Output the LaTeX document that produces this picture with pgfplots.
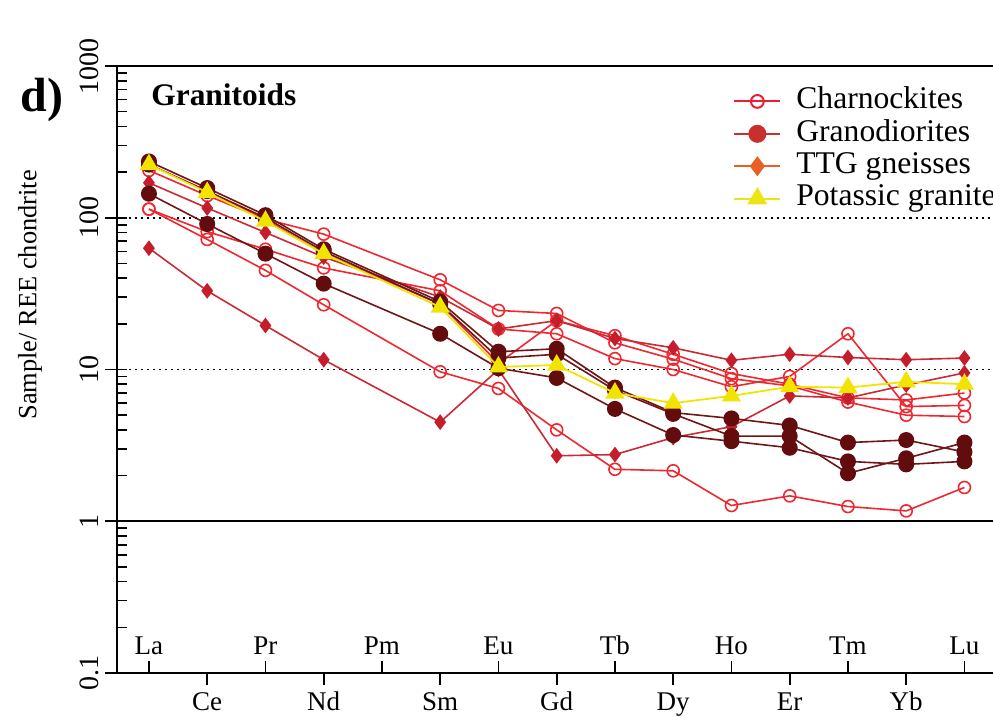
\documentclass[border=0pt]{standalone}
\usepackage{pgfplots}
\pgfplotsset{compat=1.18}
\usepackage{fontspec}
\setmainfont{Liberation Serif}
\definecolor{charn}{RGB}{238,40,48}
\definecolor{maroonM}{RGB}{98,12,14}
\definecolor{maroonL}{RGB}{112,22,24}
\definecolor{ttgM}{RGB}{196,30,45}
\definecolor{ttgL}{RGB}{202,42,52}
\definecolor{kgr}{RGB}{240,228,0}
\definecolor{legCharn}{RGB}{236,30,50}
\definecolor{legGrano}{RGB}{200,48,45}
\definecolor{legTTG}{RGB}{232,96,40}
\definecolor{legK}{RGB}{236,228,20}
\begin{document}
\begin{tikzpicture}
\useasboundingbox (-58.75pt,-22pt) rectangle (437.75pt,336.5pt);
\begin{axis}[
  at={(0,0)}, anchor=south west,
  scale only axis, width=437.75pt, height=303.5pt,
  clip mode=individual,
  xmin=-0.54, xmax=14.49,
  ymode=log, ymin=0.1, ymax=1000,
  axis x line*=bottom, axis y line*=left,
  axis line style={line width=1pt, -},
  tick align=outside,
  major tick length=6pt, minor tick length=5pt,
  tick style={black, line width=0.8pt},
  every minor y tick/.append style={xshift=5pt},
  xtick={1,3,5,7,9,11,13},
  xticklabels={Ce,Nd,Sm,Gd,Dy,Er,Yb},
  xticklabel style={font=\fontsize{13.5}{13.5}\selectfont, anchor=base, yshift=-13pt},
  extra x ticks={0,2,4,6,8,10,12,14},
  extra x tick labels={La,Pr,Pm,Eu,Tb,Ho,Tm,Lu},
  extra x tick style={tick align=inside, xticklabel style={yshift=22pt}},
  ytick={0.1,1,10,100,1000},
  yticklabels={0.1,1,10,100,1000},
  yticklabel style={font=\fontsize{14}{14}\selectfont, rotate=90, anchor=south},
  legend style={at={(0.703,0.969)}, anchor=north west, draw=none, fill=none,
    font=\fontsize{15.8}{17}\selectfont, inner sep=0pt, row sep=0pt,
    nodes={inner sep=0pt, text height=11.7pt, text depth=4.5pt},
    /tikz/every odd column/.append style={column sep=7.5pt}},
  legend cell align=left,
  legend image code/.code={\draw[mark repeat=2,mark phase=2,#1] plot coordinates {(0pt,0pt) (11.5pt,0pt) (23pt,0pt)};},
  charnS/.style={charn, line width=0.8pt, mark=o, mark size=3pt, mark options={line width=0.8pt}},
  granoS/.style={maroonL, line width=0.8pt, mark=*, mark size=3.6pt, mark options={maroonM, fill=maroonM}},
  ttgS/.style={ttgL, line width=0.8pt, mark=diamond*, mark size=3.3pt, mark options={ttgM, fill=ttgM}},
  kS/.style={kgr, line width=0.9pt, mark=triangle*, mark size=4.6pt, mark options={kgr, fill=kgr}},
]
% reference lines
\draw[line width=1pt] (axis cs:-0.54,1000) -- (axis cs:14.49,1000);
\draw[line width=0.8pt] (axis cs:-0.54,1) -- (axis cs:14.49,1);
\draw[line width=0.9pt, dash pattern=on 1pt off 2pt] (axis cs:-0.54,100) -- (axis cs:14.49,100);
\draw[line width=0.9pt, dash pattern=on 1pt off 2pt] (axis cs:-0.54,10) -- (axis cs:14.49,10);

% Charnockites
\addplot[charnS, forget plot] coordinates {(0,205)(1,140)(2,98)(3,78)(5,39)(6,24.5)(7,23.4)(8,15.0)(9,11.7)(10,8.7)(11,7.8)(12,6.1)(13,5.0)(14,4.9)};
\addplot[charnS, forget plot] coordinates {(0,114)(1,81)(2,62)(3,46.7)(5,33)(6,18.5)(7,17.2)(8,11.8)(9,10.0)(10,7.7)(11,9.0)(12,17.2)(13,5.7)(14,5.8)};
\addplot[charnS, forget plot] coordinates {(0,114)(1,72)(2,45)(3,26.7)(5,9.66)(6,7.5)(7,4.0)(8,2.2)(9,2.15)(10,1.27)(11,1.47)(12,1.25)(13,1.17)(14,1.67)};
\addplot[charnS, forget plot] coordinates {(0,224)(1,150)(2,97)(3,58)(5,27)(6,11)(7,21)(8,16.7)(9,12.6)(10,9.4)(11,8.0)(12,6.5)(13,6.3)(14,7.0)};
% TTG gneisses
\addplot[ttgS, forget plot] coordinates {(0,170)(1,116)(2,80)(3,55)(5,30)(6,18.5)(7,21)(8,16)(9,13.9)(10,11.5)(11,12.6)(12,12.0)(13,11.6)(14,11.9)};
\addplot[ttgS, forget plot] coordinates {(0,63)(1,33)(2,19.5)(3,11.6)(5,4.5)(6,10)(7,2.7)(8,2.75)(9,3.56)(10,4.2)(11,6.7)(12,6.5)(13,7.9)(14,9.5)};
% Granodiorites
\addplot[granoS, forget plot] coordinates {(0,235)(1,157)(2,104)(3,62)(5,28)(6,13.1)(7,13.7)(8,7.6)(9,5.2)(10,4.76)(11,4.28)(12,3.3)(13,3.43)(14,2.86)};
\addplot[granoS, forget plot] coordinates {(0,224)(1,150)(2,100)(3,60)(5,27)(6,11.9)(7,12.6)(8,7.3)(9,5.1)(10,3.64)(11,3.64)(12,2.07)(13,2.6)(14,3.3)};
\addplot[granoS, forget plot] coordinates {(0,144)(1,91)(2,58)(3,36.8)(5,17.2)(6,10.2)(7,8.8)(8,5.5)(9,3.7)(10,3.37)(11,3.05)(12,2.48)(13,2.37)(14,2.48)};
% Potassic granite
\addplot[kS, forget plot] coordinates {(0,224)(1,147)(2,95)(3,58)(5,25.8)(6,10.4)(7,10.7)(8,7.0)(9,6.0)(10,6.7)(11,7.7)(12,7.6)(13,8.3)(14,8.0)};

% legend
\addlegendimage{legCharn, line width=1pt, mark=o, mark size=3.2pt, mark options={line width=1pt}}
\addlegendentry{Charnockites}
\addlegendimage{legGrano, line width=1pt, mark=*, mark size=4pt}
\addlegendentry{Granodiorites}
\addlegendimage{legTTG, line width=1pt, mark=diamond*, mark size=4.2pt}
\addlegendentry{TTG gneisses}
\addlegendimage{legK, line width=1pt, mark=triangle*, mark size=4.8pt}
\addlegendentry{Potassic granite}

\node[anchor=base west, inner sep=0pt, font=\bfseries\fontsize{15.7}{16}\selectfont] at (rel axis cs:0.0383,0.9346) {Granitoids};
\node[anchor=base west, inner sep=0pt, font=\bfseries\fontsize{24}{24}\selectfont] at (rel axis cs:-0.1114,0.9247) {d)};
\node[rotate=90, anchor=center, inner sep=0pt, font=\fontsize{13.2}{13.2}\selectfont] at ([xshift=-43.75pt]rel axis cs:0,0.623) {Sample/ REE chondrite};
\end{axis}
\end{tikzpicture}
\end{document}
